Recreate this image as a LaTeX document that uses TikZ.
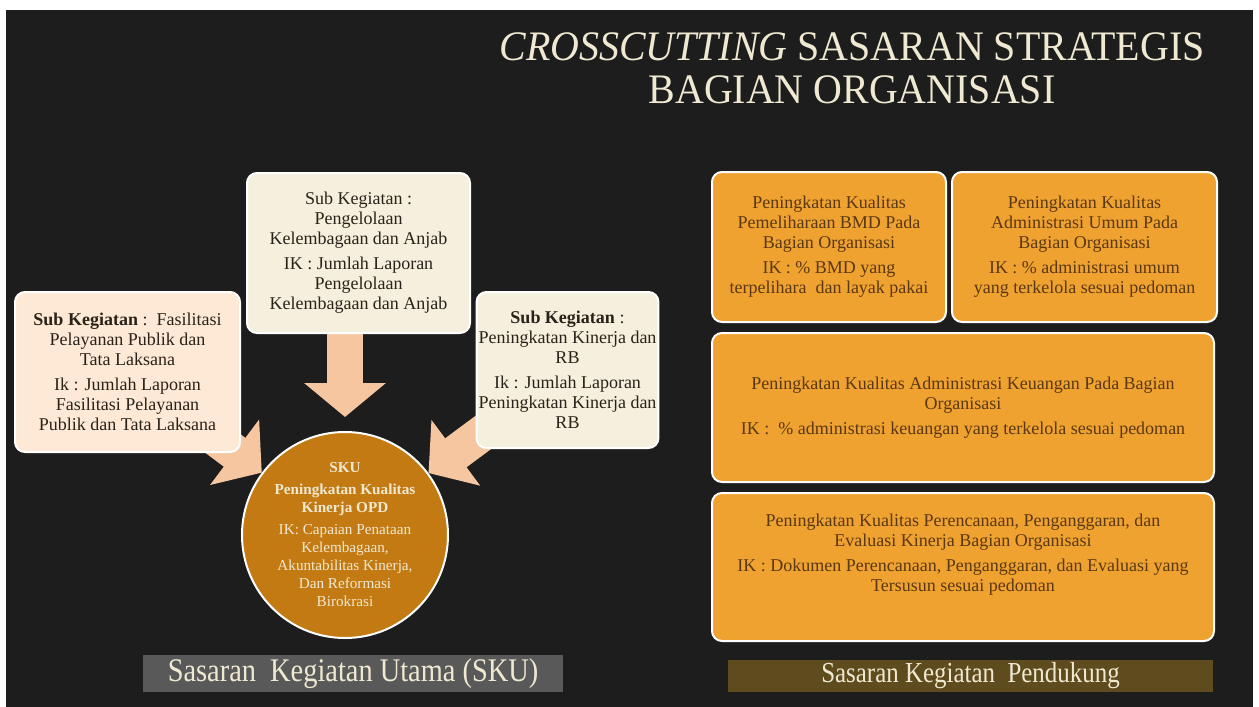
\documentclass[tikz,border=0pt]{standalone}
\usepackage{fontspec}
\setmainfont{Liberation Serif}
\newfontfamily\condfont[FakeStretch=0.86]{Liberation Serif}
\newfontfamily\titlefont[FakeStretch=0.95]{Liberation Serif}
\usepackage{tikz}
\usetikzlibrary{shapes,arrows.meta,positioning,calc,backgrounds}
\pgfdeclarelayer{backdrop}
\pgfsetlayers{backdrop,background,main}

\definecolor{slate}{HTML}{1D1D1D}
\definecolor{peachbox}{HTML}{FDE9D6}
\definecolor{creambox}{HTML}{F5F0DD}
\definecolor{arrowpeach}{HTML}{F5C6A0}
\definecolor{skuorange}{HTML}{C47A12}
\definecolor{suporange}{HTML}{EFA22F}
\definecolor{brownink}{HTML}{5A3812}
\definecolor{darkink}{HTML}{2A2218}
\definecolor{titlecream}{HTML}{EFE9D2}
\definecolor{bannergray}{HTML}{595959}
\definecolor{bannerolive}{HTML}{5F4C1E}

\begin{document}
\begin{tikzpicture}[
    x=0.5pt, y=-0.5pt,
    node distance=2pt,
    subbox/.style={rectangle, rounded corners=5pt, draw=white, line width=1pt, align=center, text=darkink, inner sep=1pt, font=\fontsize{9}{10}\selectfont},
    supbox/.style={rectangle, rounded corners=5pt, draw=white, line width=1pt, fill=suporange, align=center, text=brownink, inner sep=2pt, font=\fontsize{9}{10}\selectfont},
    skucircle/.style={circle, draw=white, line width=1pt, fill=skuorange, minimum size=103pt, inner sep=0pt, align=center, text=titlecream, font=\fontsize{7.6}{9}\selectfont},
    blockarrow/.style={line width=18pt, arrowpeach, -{Triangle[width=40pt,length=17pt]}},
    banner/.style={rectangle, inner sep=0pt, text=titlecream, font=\condfont}
]

% Page and backdrop
\useasboundingbox (0,0) rectangle (1259,707);
\begin{pgfonlayer}{backdrop}
\fill[white] (0,0) rectangle (1259,707);
\fill[slate] (6,10) rectangle (1253,707);
\end{pgfonlayer}

% Title
\node[align=center, text=titlecream, font=\titlefont\fontsize{21}{21.5}\selectfont] (title) at (852,68)
    {\textit{CROSSCUTTING} SASARAN STRATEGIS\\BAGIAN ORGANISASI};

% Sub kegiatan boxes
\node[subbox, fill=creambox, minimum width=111.5pt, minimum height=80pt] (sub_b) at (358.5,253) {
    Sub Kegiatan :\\Pengelolaan\\Kelembagaan dan Anjab\\[2.5pt]
    IK : Jumlah Laporan\\Pengelolaan\\Kelembagaan dan Anjab};
\node[subbox, fill=peachbox, minimum width=112.5pt, minimum height=80pt] (sub_a) at (127.5,372) {
    \textbf{Sub Kegiatan} :\ \ Fasilitasi\\Pelayanan Publik dan\\Tata Laksana\\[2.5pt]
    Ik : Jumlah Laporan\\Fasilitasi Pelayanan\\Publik dan Tata Laksana};
\node[subbox, fill=creambox, minimum width=90.5pt, minimum height=78pt] (sub_c) at (567.5,370) {
    \textbf{Sub Kegiatan} :\\Peningkatan Kinerja dan\\RB\\[2.5pt]
    Ik : Jumlah Laporan\\Peningkatan Kinerja dan\\RB};

% SKU
\node[skucircle] (sku) at (345,535) {
    \textbf{SKU}\\[2pt]
    \textbf{Peningkatan Kualitas}\\\textbf{Kinerja OPD}\\[2pt]
    IK: Capaian Penataan\\Kelembagaan,\\Akuntabilitas Kinerja,\\Dan Reformasi\\Birokrasi};

% Block arrows
\begin{scope}[on background layer]
\draw[blockarrow] (sub_a.center) -- (sku);
\draw[blockarrow] (sub_c.center) -- (sku);
\draw[blockarrow, shorten >=7pt] (sku.north |- sub_b.center) -- (sku.north);
\end{scope}

% Supporting boxes
\node[supbox, minimum width=117pt, minimum height=75pt] (sup_bmd) at (829,247) {
    Peningkatan Kualitas\\Pemeliharaan BMD Pada\\Bagian Organisasi\\[2.5pt]
    IK : \% BMD yang\\terpelihara\ \ dan layak pakai};
\node[supbox, minimum width=132.5pt, minimum height=75pt, right=2pt of sup_bmd] (sup_umum) {
    Peningkatan Kualitas\\Administrasi Umum Pada\\Bagian Organisasi\\[2.5pt]
    IK : \% administrasi umum\\yang terkelola sesuai pedoman};
\node[supbox, minimum width=251pt, minimum height=74.5pt, below=4.5pt of sup_bmd.south west, anchor=north west] (sup_keu) {
    Peningkatan Kualitas Administrasi Keuangan Pada Bagian\\Organisasi\\[2.5pt]
    IK :\ \ \% administrasi keuangan yang terkelola sesuai pedoman};
\node[supbox, minimum width=251pt, minimum height=74pt, below=4.5pt of sup_keu] (sup_renc) {
    Peningkatan Kualitas Perencanaan, Penganggaran, dan\\Evaluasi Kinerja Bagian Organisasi\\[2.5pt]
    IK : Dokumen Perencanaan, Penganggaran, dan Evaluasi yang\\Tersusun sesuai pedoman\\[4pt]\mbox{}};

% Banners
\node[banner, fill=bannergray, minimum width=210pt, minimum height=18.5pt, font=\condfont\fontsize{16.5}{18}\selectfont] (lbl_sku) at (353,673.5)
    {Sasaran\ \ Kegiatan Utama (SKU)};
\node[banner, fill=bannerolive, minimum width=242.5pt, minimum height=16pt, font=\condfont\fontsize{14.5}{16}\selectfont] (lbl_sup) at (970.5,676)
    {Sasaran Kegiatan\ \ Pendukung};

\end{tikzpicture}
\end{document}
